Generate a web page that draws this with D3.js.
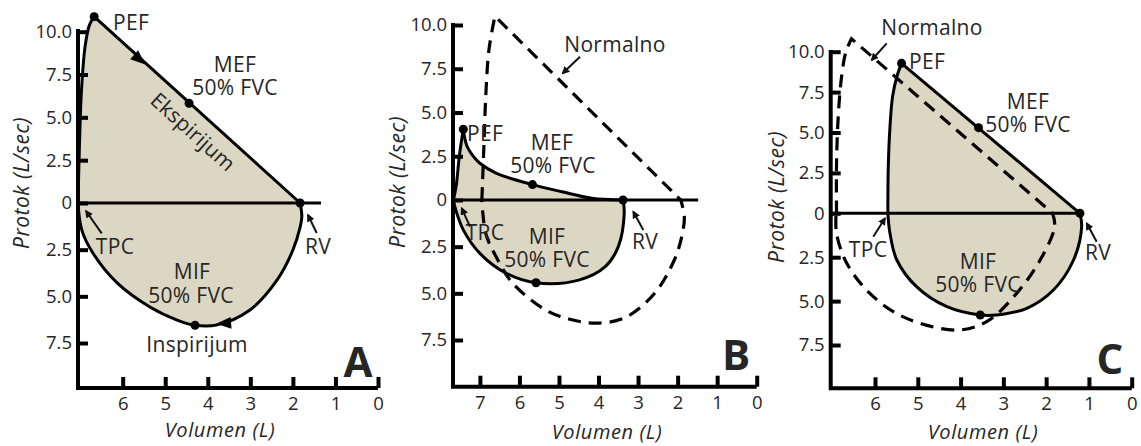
<!DOCTYPE html>
<html>
<head>
<meta charset="utf-8">
<script src="https://cdn.jsdelivr.net/npm/d3@7"></script>
<style>
  body { margin: 0; background: #fff; }
  svg text { font-family: "Open Sans", sans-serif; fill: #262626; }
</style>
</head>
<body>
<svg id="chart" width="1141" height="446"></svg>
<script>
// flow in L/s (negative = inspiration), volume in L
const flowTicks = [10, 7.5, 5, 2.5, 0, -2.5, -5, -7.5];
const volTicksA = [6, 5, 4, 3, 2, 1, 0];
const volTicksB = [7, 6, 5, 4, 3, 2, 1, 0];
const volTicksC = [6, 5, 4, 3, 2, 1, 0];

// A - normal loop
const riseA = [[7.05, 0], [7.02, 3], [6.97, 6.5], [6.88, 9.2], [6.78, 10.4], [6.67, 10.88]];
const fallA = [[6.67, 10.88], [1.83, 0]];
const inspA = [[1.83, 0], [1.79, -0.73], [1.83, -1.29], [2.0, -2.52], [2.37, -4.12], [3.01, -5.73],
  [3.78, -6.53], [4.3, -6.55], [4.72, -6.27], [5.36, -5.57], [6.13, -4.28], [6.7, -2.68], [6.96, -1.45], [7.05, 0]];
const dotsA = [[6.67, 10.88], [4.44, 5.82], [4.3, -6.55], [1.83, 0]];
const flowArrowsA = [[5.59, 8.35, 4.44, 5.82], [3.64, -6.45, 4.3, -6.55]];

// B - obstructive loop + normal (dashed)
const riseB = [[7.67, 0], [7.6, 0.8], [7.52, 2.5], [7.42, 4.04]];
const fallB = [[7.42, 4.04], [7.33, 3.1], [7.15, 2.45], [7.0, 2.1], [6.58, 1.52], [5.67, 0.88],
  [4.92, 0.47], [4.17, 0.1], [3.38, 0]];
const inspB = [[3.38, 0], [3.35, -0.7], [3.5, -2.5], [3.83, -3.57], [4.5, -4.29], [5.58, -4.43],
  [6.33, -3.93], [7.0, -2.86], [7.42, -1.6], [7.6, -0.6], [7.67, 0]];
const dotsB = [[7.42, 4.04], [5.67, 0.88], [5.58, -4.43], [3.38, 0]];
const normRiseB = [[6.95, 0], [6.9, 3], [6.85, 6], [6.77, 8.6], [6.62, 10.5]];
const normFallB = [[6.62, 10.5], [1.92, 0]];
const normInspB = [[1.92, 0], [1.83, -0.9], [1.9, -2], [2.08, -3.2], [2.58, -5.0], [3.33, -6.3],
  [4.08, -6.6], [4.7, -6.4], [5.33, -5.9], [6.17, -4.46], [6.6, -3.0], [6.85, -1.8], [6.95, 0]];

// C - restrictive loop + normal (dashed)
const riseC = [[5.7, 0], [5.69, 2.88], [5.65, 5.36], [5.59, 7.22], [5.49, 8.45], [5.38, 9.28]];
const fallC = [[5.38, 9.28], [1.21, 0]];
const inspC = [[1.21, 0], [1.17, -0.76], [1.36, -2.66], [1.83, -4.37], [2.45, -5.41], [3.15, -5.79],
  [3.54, -5.79], [4.32, -5.32], [5.03, -4.18], [5.49, -2.66], [5.65, -1.14], [5.7, 0]];
const dotsC = [[5.38, 9.28], [3.58, 5.3], [3.54, -5.79], [1.21, 0]];
const normRiseC = [[6.9, 0], [6.9, 3], [6.86, 6], [6.78, 8.5], [6.68, 10], [6.55, 10.8]];
const normFallC = [[6.55, 10.8], [1.85, 0]];
const normInspC = [[1.85, 0], [1.8, -0.76], [2.14, -2.66], [2.69, -4.56], [3.39, -6.17], [4.09, -6.65],
  [5.34, -5.9], [6.12, -4.56], [6.66, -2.85], [6.9, -1.14], [6.91, 0]];

const svg = d3.select('#chart');
const FILL = '#dcd7c3';

svg.append('defs').append('marker')
  .attr('id', 'tip').attr('viewBox', '0 0 10 10').attr('refX', 8).attr('refY', 5)
  .attr('markerWidth', 4).attr('markerHeight', 4).attr('orient', 'auto')
  .append('path').attr('d', 'M0,0 L10,5 L0,10 Z').attr('fill', '#111');

const smooth = d3.curveCatmullRom.alpha(0.5);

function loopPath(line, segs) {
  return segs.map((s, i) => {
    const d = line.curve(s[1])(s[0]);
    return i ? d.replace(/^M/, 'L') : d;
  }).join('') + 'Z';
}

function panel(p) {
  const x = d3.scaleLinear().domain([0, p.volMax]).range([p.xZero, p.left]);
  const y = d3.scaleLinear().domain([-7.5, 0, 10]).range(p.yRange);
  const line = d3.line().x(d => x(d[0])).y(d => y(d[1]));
  const g = svg.append('g');

  const segs = [[p.rise, smooth], [p.fall, p.fallCurve], [p.insp, smooth]];
  g.append('path').attr('d', loopPath(line, segs)).attr('fill', FILL).attr('stroke', 'none');

  // zero flow line
  g.append('line')
    .attr('x1', p.left).attr('x2', x(p.zeroEnd)).attr('y1', y(0)).attr('y2', y(0))
    .attr('stroke', '#000').attr('stroke-width', 3);

  if (p.norm) {
    const nsegs = [[p.norm[0], smooth], [p.norm[1], d3.curveLinear], [p.norm[2], smooth]];
    g.append('path').attr('d', loopPath(line, nsegs).slice(0, -1))
      .attr('fill', 'none').attr('stroke', '#000').attr('stroke-width', 3.2)
      .attr('stroke-dasharray', '13,8');
  }

  segs.forEach(s => {
    g.append('path').attr('d', line.curve(s[1])(s[0]))
      .attr('fill', 'none').attr('stroke', '#000').attr('stroke-width', 3)
      .attr('stroke-linejoin', 'round');
  });

  g.selectAll('circle.pt').data(p.dots).enter().append('circle')
    .attr('cx', d => x(d[0])).attr('cy', d => y(d[1])).attr('r', 4.5).attr('fill', '#000');

  (p.flowArrows || []).forEach(a => {
    const ang = Math.atan2(y(a[3]) - y(a[1]), x(a[2]) - x(a[0])) * 180 / Math.PI;
    g.append('path').attr('d', 'M7,0 L-8,-6 L-8,6 Z').attr('fill', '#000')
      .attr('transform', `translate(${x(a[0])},${y(a[1])}) rotate(${ang})`);
  });

  // axes
  g.append('path')
    .attr('d', `M${p.left},${p.top} V${p.bottom} H${x(0)}`)
    .attr('fill', 'none').attr('stroke', '#000').attr('stroke-width', 4);

  const yAxis = g.append('g').attr('transform', `translate(${p.left},0)`)
    .call(d3.axisLeft(y).tickValues(flowTicks).tickSize(-10).tickPadding(6)
      .tickFormat(d => d === 0 ? '0' : Math.abs(d).toFixed(1)));
  const xAxis = g.append('g').attr('transform', `translate(0,${p.bottom})`)
    .call(d3.axisBottom(x).tickValues(p.volTicks).tickSize(-11).tickPadding(9).tickFormat(d3.format('d')));
  [yAxis, xAxis].forEach(a => {
    a.select('.domain').remove();
    a.selectAll('.tick line').attr('stroke', '#000').attr('stroke-width', 4);
    a.selectAll('.tick text').attr('font-size', 18.5).attr('font-family', null).attr('fill', '#262626');
  });

  g.append('text').attr('transform', `translate(${p.yTitle[0]},${p.yTitle[1]}) rotate(-90)`)
    .attr('text-anchor', 'middle').attr('dy', '0.35em').attr('font-size', 21)
    .attr('letter-spacing', 0.5).attr('font-style', 'italic').text('Protok (L/sec)');
  g.append('text').attr('x', p.xTitle[0]).attr('y', p.xTitle[1])
    .attr('text-anchor', 'middle').attr('dy', '0.35em').attr('font-size', 20)
    .attr('letter-spacing', 0.6).attr('font-style', 'italic').text('Volumen (L)');

  p.labels.forEach(l => {
    g.append('text')
      .attr('transform', `translate(${l[1]},${l[2]}) rotate(${l[3] || 0})`)
      .attr('text-anchor', 'middle').attr('dy', '0.35em').attr('font-size', 21)
      .attr('letter-spacing', 0.3).text(l[0]);
  });

  g.append('text').attr('x', p.letter[1]).attr('y', p.letter[2])
    .attr('text-anchor', 'middle').attr('dy', '0.36em').attr('font-size', 42)
    .attr('font-weight', 700).attr('fill', '#000').text(p.letter[0]);

  p.pointers.forEach(a => {
    g.append('line').attr('x1', a[0]).attr('y1', a[1]).attr('x2', a[2]).attr('y2', a[3])
      .attr('stroke', '#111').attr('stroke-width', 2).attr('marker-end', 'url(#tip)');
  });
}

panel({
  left: 78, xZero: 378, volMax: 7.05, yRange: [343, 203, 31.7], top: 29, bottom: 388,
  volTicks: volTicksA, rise: riseA, fall: fallA, fallCurve: d3.curveLinear, insp: inspA,
  dots: dotsA, flowArrows: flowArrowsA, zeroEnd: 1.34,
  yTitle: [22, 183], xTitle: [220, 430],
  labels: [['PEF', 131, 23], ['MEF', 235, 65], ['50% FVC', 235, 88], ['Ekspirijum', 193, 132, 42],
    ['TPC', 115, 247], ['RV', 318, 247], ['MIF', 192, 272], ['50% FVC', 191, 296], ['Inspirijum', 197, 345]],
  letter: ['A', 358, 362],
  pointers: [[101.7, 233.3, 86, 211], [316.7, 233, 308, 215]]
});

panel({
  left: 453, xZero: 756.7, volMax: 7.68, yRange: [340, 200, 25], top: 23, bottom: 386.7,
  volTicks: volTicksB, rise: riseB, fall: fallB, fallCurve: smooth, insp: inspB,
  dots: dotsB, zeroEnd: 1.48, norm: [normRiseB, normFallB, normInspB],
  yTitle: [398, 182], xTitle: [607, 432],
  labels: [['PEF', 485, 134], ['MEF', 552, 143], ['50% FVC', 553, 166], ['TRC', 485, 233],
    ['MIF', 547, 237], ['50% FVC', 547, 260], ['RV', 645, 242], ['Normalno', 615, 45]],
  letter: ['B', 736, 355],
  pointers: [[470, 226.7, 461.7, 208.3], [643.3, 230, 633.3, 211.7], [580, 56.7, 562.7, 73.3]]
});

panel({
  left: 830.7, xZero: 1131.7, volMax: 7.036, yRange: [345, 213.3, 51.7], top: 50, bottom: 388.3,
  volTicks: volTicksC, rise: riseC, fall: fallC, fallCurve: d3.curveLinear, insp: inspC,
  dots: dotsC, zeroEnd: 1.17, norm: [normRiseC, normFallC, normInspC],
  yTitle: [777, 197], xTitle: [983, 432],
  labels: [['PEF', 927, 62], ['MEF', 1028, 102], ['50% FVC', 1028, 125], ['TPC', 868, 250],
    ['MIF', 978, 262], ['50% FVC', 978, 285], ['RV', 1098, 253], ['Normalno', 932, 28]],
  letter: ['C', 1110, 359],
  pointers: [[873.3, 236.7, 885, 218.3], [1096.7, 241.7, 1086.7, 223.3], [886.7, 43.3, 871.7, 60]]
});
</script>
</body>
</html>
